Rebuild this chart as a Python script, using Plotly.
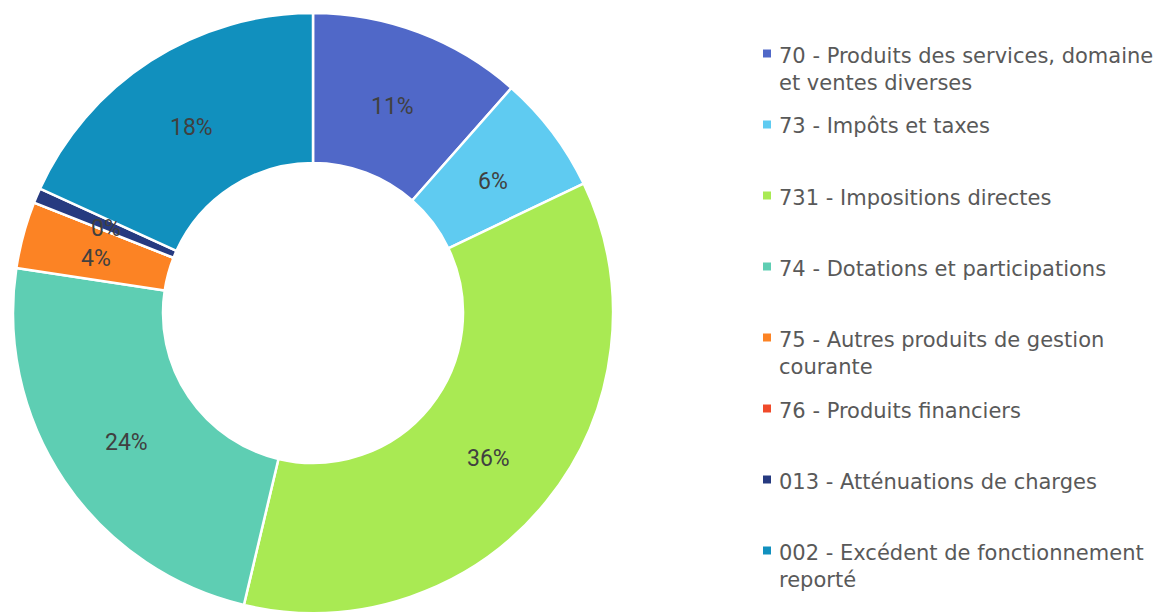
import math
import plotly.graph_objects as go

# ---- data ----
categories = [
    "70 - Produits des services, domaine<br>et ventes diverses",
    "73 - Impôts et taxes",
    "731 - Impositions directes",
    "74 - Dotations et participations",
    "75 - Autres produits de gestion<br>courante",
    "76 - Produits financiers",
    "013 - Atténuations de charges",
    "002 - Excédent de fonctionnement<br>reporté",
]
values = [11.5, 6.4, 35.8, 23.7, 3.6, 0.0, 0.8, 18.2]
pct_labels = ["11%", "6%", "36%", "24%", "4%", "", "0%", "18%"]
colors = ["#5068C8", "#5FCBF1", "#A9EA53", "#5ECEB3",
          "#FC8324", "#F04A2A", "#263A80", "#1190BE"]

W, H = 1162, 614
LABEL_FONT = "Roboto"
LEG_FONT = "DejaVu Sans"
TXT = "#404040"
LEG_TXT = "#595959"
FS_LAB = 23
FS_LEG = 21

cx, cy, R = 313, 313, 300
HOLE = 0.50

fig = go.Figure()
fig.add_trace(go.Pie(
    labels=categories,
    values=values,
    textinfo="none",
    marker=dict(colors=colors, line=dict(color="white", width=2.5)),
    hole=HOLE,
    sort=False,
    direction="clockwise",
    rotation=0,
    showlegend=False,
    domain=dict(x=[(cx - R) / W, (cx + R) / W],
                y=[(H - cy - R) / H, (H - cy + R) / H]),
))

annotations = []
shapes = []

# slice labels: middle of each slice, halfway across the ring
total = sum(values)
r_mid = R * (1 + HOLE) / 2
cum = 0.0
for v, t in zip(values, pct_labels):
    ang = 2 * math.pi * (cum + v / 2) / total
    cum += v
    if not t:
        continue
    px = cx + r_mid * math.sin(ang)
    py = cy - r_mid * math.cos(ang) + 4
    annotations.append(dict(xref="paper", yref="paper",
                            x=px / W, y=(H - py) / H,
                            xanchor="center", yanchor="middle",
                            showarrow=False, text=t,
                            font=dict(family=LABEL_FONT, size=FS_LAB, color=TXT)))

# custom legend
LH = FS_LEG * 1.3
for i, (lab, col) in enumerate(zip(categories, colors)):
    y0 = 55.5 + 71 * i
    nlines = lab.count("<br>") + 1
    ymid = y0 + (nlines - 1) * LH / 2
    sq = 53.5 + 71 * i
    shapes.append(dict(type="rect", xref="paper", yref="paper",
                       x0=763 / W, x1=771 / W,
                       y0=(H - (sq + 4)) / H, y1=(H - (sq - 4)) / H,
                       fillcolor=col, line=dict(width=0)))
    annotations.append(dict(xref="paper", yref="paper",
                            x=777 / W, y=(H - ymid) / H,
                            xanchor="left", yanchor="middle",
                            align="left", showarrow=False,
                            text=lab,
                            font=dict(family=LEG_FONT, size=FS_LEG, color=LEG_TXT)))

fig.update_layout(
    width=W, height=H,
    margin=dict(l=0, r=0, t=0, b=0),
    paper_bgcolor="white", plot_bgcolor="white",
    shapes=shapes,
    annotations=annotations,
)

fig.write_html("out.html")
